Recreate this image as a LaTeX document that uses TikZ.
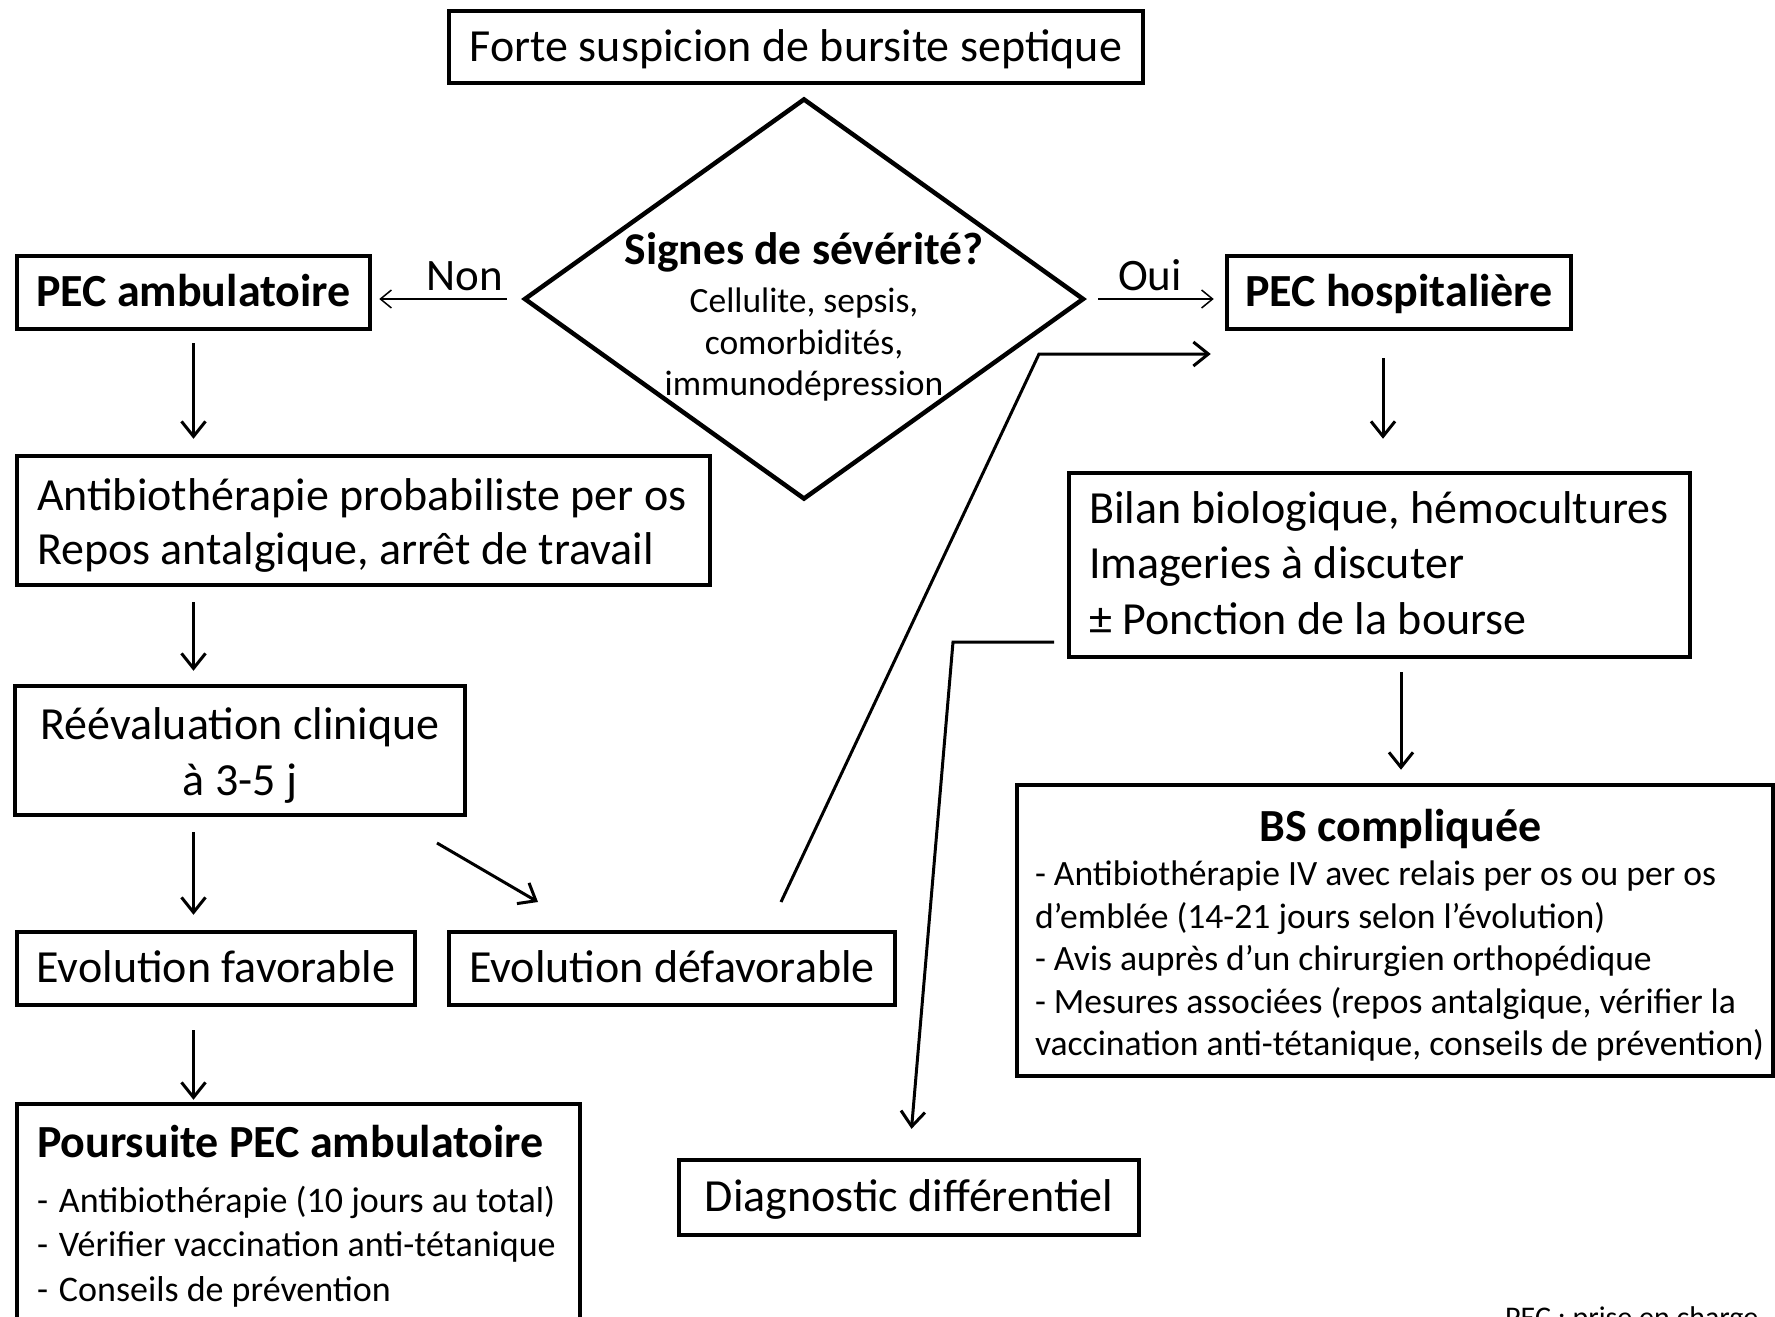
\documentclass[tikz,border=0pt]{standalone}
\usepackage{fontspec}
\setmainfont{Carlito}
\usetikzlibrary{arrows.meta,shapes.geometric,calc}
\begin{document}
\begin{tikzpicture}[x=1pt,y=-1pt,
  box/.style={draw, line width=3.5pt, inner sep=0pt, font=\fontsize{46}{54}\selectfont},
  oneline/.style={text height=37.3pt, text depth=8.7pt},
  arr/.style={line width=3pt, -{Straight Barb[length=15pt,width=24pt]}},
  thinarr/.style={line width=1.5pt, -{Straight Barb[length=11pt,width=18pt]}},
  lbl/.style={inner sep=0pt, anchor=base, font=\fontsize{45}{52}\selectfont},
]
\useasboundingbox (0,0) rectangle (1775,1317);
\fill[white] (0,0) rectangle (1775,1317);

% boxes
\node[box, oneline, minimum width=694pt, minimum height=72pt] (top) at (796,47) {Forte suspicion de bursite septique};

\node[draw, line width=4.5pt, shape=diamond, minimum width=560pt, minimum height=401pt, inner sep=0pt] (D) at (804,299) {};
\node[inner sep=0pt, align=center, font=\fontsize{35.5}{41.5}\selectfont] (Dtxt) at (804,317)
  {{\fontsize{45.5}{45}\selectfont\bfseries Signes de sévérité?}\\[6.5pt]
   Cellulite, sepsis,\\ comorbidités,\\ immunodépression};

\node[box, oneline, minimum width=353pt, minimum height=73pt, font=\fontsize{46}{54}\selectfont\bfseries] (amb) at (193.5,292.5) {PEC ambulatoire};
\node[box, oneline, minimum width=344pt, minimum height=73pt, font=\fontsize{46}{54}\selectfont\bfseries] (H) at (1399,292.5) {PEC hospitalière};

\node[box, minimum width=693pt, minimum height=129pt, text width=653pt, align=flush left] (antibio) at (363.5,520.5)
  {\rule{0pt}{42.5pt}\mbox{Antibiothérapie probabiliste per os}\\\mbox{Repos antalgique, arrêt de travail}};

\node[box, minimum width=621pt, minimum height=184pt, text width=581pt, align=flush left, font=\fontsize{46}{55.5}\selectfont] (bilan) at (1379.5,565)
  {\mbox{Bilan biologique, hémocultures}\\\mbox{Imageries à discuter}\\\mbox{± Ponction de la bourse}\rule[-4.5pt]{0pt}{4.5pt}};

\node[box, minimum width=450pt, minimum height=129pt, align=center, font=\fontsize{46}{56}\selectfont] (reev) at (240,750.5)
  {\rule{0pt}{41pt}Réévaluation clinique\\à 3-5 j};

\node[box, minimum width=756pt, minimum height=291pt, text width=720pt, align=flush left, font=\fontsize{35.6}{42.5}\selectfont] (bs) at (1395,930.5)
  {\rule{0pt}{42pt}\makebox[731pt][c]{\fontsize{46}{46}\selectfont\bfseries BS compliquée}\\[2pt]
   \mbox{- Antibiothérapie IV avec relais per os ou per os}\\
   \mbox{d’emblée (14-21 jours selon l’évolution)}\\
   \mbox{- Avis auprès d’un chirurgien orthopédique}\\
   \mbox{- Mesures associées (repos antalgique, vérifier la}\\
   \mbox{vaccination anti-tétanique, conseils de prévention)}};

\node[box, oneline, minimum width=398pt, minimum height=73pt] (fav) at (216,968.5) {Evolution favorable};
\node[box, oneline, minimum width=446pt, minimum height=73pt] (defav) at (672,968.5) {Evolution défavorable};

\node[box, minimum width=563pt, minimum height=224pt, text width=523pt, align=flush left, font=\fontsize{36}{44.5}\selectfont] (pours) at (298.5,1216)
  {\mbox{\fontsize{46}{46}\selectfont\bfseries Poursuite PEC ambulatoire}\\[10.5pt]
   \mbox{-\hspace{11pt}Antibiothérapie (10 jours au total)}\\
   \mbox{-\hspace{11pt}Vérifier vaccination anti-tétanique}\\
   \mbox{-\hspace{11pt}Conseils de prévention}};

\node[box, oneline, minimum width=460pt, minimum height=75pt] (diag) at (909,1197.5) {Diagnostic différentiel};

\node[anchor=base west, inner sep=0pt, font=\fontsize{30}{36}\selectfont] (note) at (1505,1327) {PEC : prise en charge};

% connectors
\draw[thinarr, shorten <=15pt, shorten >=7.5pt] (D.west) -- node[lbl, pos=0.379, yshift=9pt] {Non} (D.west -| amb.east);
\draw[thinarr, shorten <=12pt, shorten >=11.5pt] (D.east) -- node[lbl, pos=0.459, yshift=9pt] {Oui} (D.east -| H.west);

\draw[arr, shorten <=12.5pt, shorten >=15.5pt] (amb.south) -- (amb.south |- antibio.north);
\draw[arr, shorten <=15.5pt, shorten >=13.5pt] (amb.south |- antibio.south) -- (amb.south |- reev.north);
\draw[arr, shorten <=15.5pt, shorten >=15.5pt] (amb.south |- reev.south) -- (amb.south |- fav.north);
\draw[arr, shorten <=23.5pt, shorten >=2.5pt] (amb.south |- fav.south) -- (amb.south |- pours.north);

\coordinate (h1) at ($(H.south)+(-16,0)$);
\draw[arr, shorten <=27.5pt, shorten >=32.5pt] (h1) -- (h1 |- bilan.north);
\coordinate (b1) at ($(bilan.south)+(21.5,0)$);
\draw[arr, shorten <=13.5pt, shorten >=13.5pt] (b1) -- (b1 |- bs.north);

\coordinate (dg1) at (437,843);
\coordinate (dg2) at (538,902);
\draw[arr] (dg1) -- (dg2);

\coordinate (u1) at (781,902);
\coordinate (u2) at (1039,354);
\draw[arr, shorten >=14.5pt] (u1) -- (u2) -- (u2 -| H.west);

\coordinate (v0) at (1054,642);
\coordinate (v1) at (953,642);
\draw[arr, shorten >=29.5pt] (v0) -- (v1) -- (diag.north);
\end{tikzpicture}
\end{document}
